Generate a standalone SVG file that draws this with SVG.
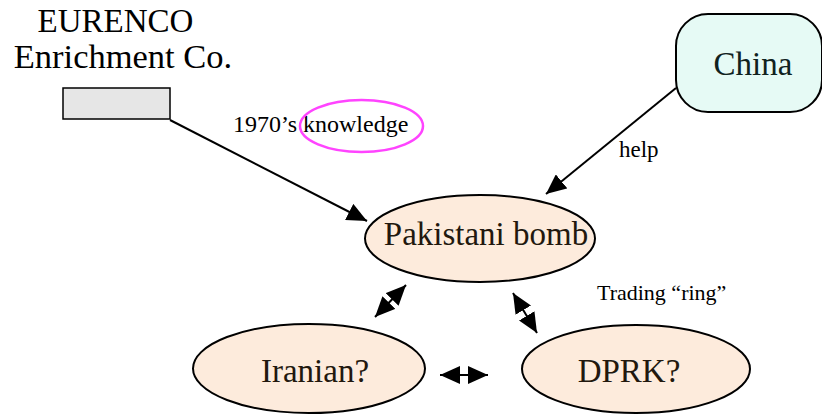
<svg xmlns="http://www.w3.org/2000/svg" width="822" height="414" viewBox="0 0 822 414">
<style>
text{font-family:"Liberation Serif","Times New Roman",serif;}
.big{font-size:33px;text-anchor:middle;}
.lbl{font-size:22px;fill:#000;}
.ell{fill:#fdebdc;stroke:#000;stroke-width:2;}
.dark{fill:#22180e;}
.conn{stroke:#000;stroke-width:2;fill:none;}
</style>
<defs>
<marker id="ah" markerUnits="userSpaceOnUse" markerWidth="20" markerHeight="18" refX="20" refY="9" orient="auto-start-reverse">
<path d="M0,0 L20,9 L0,18 Z" fill="#000"/>
</marker>
</defs>
<g id="eurenco">
<text class="big" x="115.5" y="32" fill="#000">EURENCO</text>
<text class="big" x="123" y="68" fill="#000" style="font-size:34.5px">Enrichment Co.</text>
<rect x="63" y="88" width="107" height="31" fill="#e6e6e6" stroke="#000" stroke-width="1.5"/>
</g>
<g id="china">
<rect x="676" y="14" width="146" height="98" rx="32" ry="32" fill="#e6faf5" stroke="#000" stroke-width="2"/>
<text class="big" x="753" y="75" fill="#10221e">China</text>
</g>
<g id="pakistani">
<ellipse class="ell" cx="480" cy="238.5" rx="115" ry="43.5"/>
<text class="big dark" x="486" y="245">Pakistani bomb</text>
</g>
<g id="iranian">
<ellipse class="ell" cx="309" cy="368.5" rx="116" ry="44.5"/>
<text class="big dark" x="315" y="382">Iranian?</text>
</g>
<g id="dprk">
<ellipse class="ell" cx="636" cy="369" rx="114" ry="44"/>
<text class="big dark" x="629" y="382">DPRK?</text>
</g>
<g id="connectors">
<line class="conn" x1="170" y1="120" x2="367" y2="221" marker-end="url(#ah)"/>
<line class="conn" x1="676" y1="88" x2="546" y2="194" marker-end="url(#ah)"/>
<line class="conn" x1="375" y1="317" x2="406" y2="285" marker-start="url(#ah)" marker-end="url(#ah)"/>
<line class="conn" x1="513" y1="293" x2="537" y2="333" marker-start="url(#ah)" marker-end="url(#ah)"/>
<line class="conn" x1="440" y1="375" x2="488" y2="375" marker-start="url(#ah)" marker-end="url(#ah)"/>
</g>
<g id="labels">
<text class="lbl" x="233" y="132" style="font-size:24px">1970’s knowledge</text>
<ellipse cx="361.5" cy="126" rx="61.5" ry="26" fill="none" stroke="#ff44ff" stroke-width="2.5"/>
<text class="lbl" x="619" y="157" style="font-size:23px">help</text>
<text class="lbl" x="597" y="300">Trading “ring”</text>
</g>
</svg>
